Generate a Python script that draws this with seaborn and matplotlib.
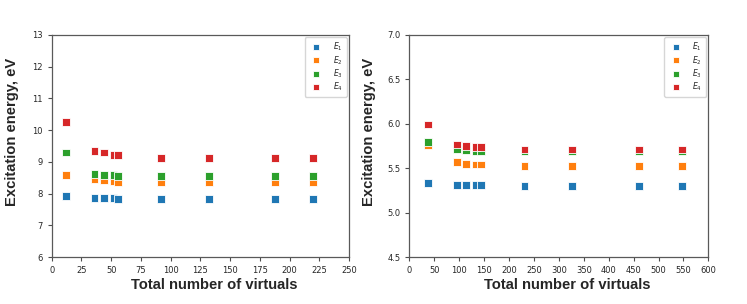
import pandas as pd
import matplotlib
matplotlib.use('Agg')
import matplotlib.pyplot as plt
import seaborn as sns

# left panel data
x_left = [12, 36, 44, 52, 56, 92, 132, 188, 220]
e1_left = [7.91, 7.86, 7.86, 7.85, 7.84, 7.84, 7.84, 7.84, 7.84]
e2_left = [8.58, 8.44, 8.42, 8.40, 8.37, 8.36, 8.36, 8.36, 8.36]
e3_left = [9.29, 8.61, 8.59, 8.58, 8.56, 8.54, 8.54, 8.54, 8.54]
e4_left = [10.25, 9.35, 9.29, 9.22, 9.22, 9.13, 9.13, 9.12, 9.12]

# right panel data
x_right = [38, 96, 114, 133, 144, 231, 326, 460, 547]
e1_right = [5.33, 5.31, 5.31, 5.31, 5.31, 5.30, 5.30, 5.30, 5.30]
e2_right = [5.76, 5.57, 5.55, 5.54, 5.54, 5.52, 5.52, 5.52, 5.52]
e3_right = [5.79, 5.71, 5.70, 5.69, 5.69, 5.69, 5.69, 5.69, 5.69]
e4_right = [5.99, 5.765, 5.745, 5.735, 5.735, 5.71, 5.71, 5.71, 5.71]

labels = ['$E_1$', '$E_2$', '$E_3$', '$E_4$']
colors = ['tab:blue', 'tab:orange', 'tab:green', 'tab:red']

left_xticks = [0, 25, 50, 75, 100, 125, 150, 175, 200, 225, 250]
right_xticks = [0, 50, 100, 150, 200, 250, 300, 350, 400, 450, 500, 550, 600]
left_yticks = [6, 7, 8, 9, 10, 11, 12, 13]
right_yticks = [4.5, 5.0, 5.5, 6.0, 6.5, 7.0]


def to_long(x, series):
    rows = []
    for lab, vals in zip(labels, series):
        for xi, yi in zip(x, vals):
            rows.append({'n': xi, 'E': yi, 'state': lab})
    return pd.DataFrame(rows)


sns.set_style('ticks')
plt.rcParams['font.family'] = ['DejaVu Sans']

fig = plt.figure(figsize=(7.47, 3.04), dpi=100)
ax1 = fig.add_axes([0.0692, 0.1546, 0.398, 0.731])
ax2 = fig.add_axes([0.548, 0.1546, 0.4003, 0.731])

panels = [
    (ax1, to_long(x_left, [e1_left, e2_left, e3_left, e4_left]), left_xticks, left_yticks, '%g',
     (0.546, -0.095), (-0.11, 0.565)),
    (ax2, to_long(x_right, [e1_right, e2_right, e3_right, e4_right]), right_xticks, right_yticks, '%.1f',
     (0.529, -0.095), (-0.11, 0.565)),
]

for ax, df, xt, yt, yfmt, xlab_pos, ylab_pos in panels:
    sns.scatterplot(data=df, x='n', y='E', hue='state', palette=colors,
                    marker='s', s=32, linewidth=0.6, edgecolor='white', ax=ax)
    ax.set_xlim(xt[0], xt[-1])
    ax.set_ylim(yt[0], yt[-1])
    ax.set_xticks(xt)
    ax.set_yticks(yt)
    ax.set_yticklabels([yfmt % v for v in yt])
    ax.set_xlabel('Total number of virtuals', fontsize=10.6, fontweight='bold',
                  family='Liberation Sans')
    ax.set_ylabel('Excitation energy, eV', fontsize=10.6, fontweight='bold',
                  family='Liberation Sans')
    ax.xaxis.set_label_coords(*xlab_pos)
    ax.yaxis.set_label_coords(*ylab_pos)
    ax.tick_params(labelsize=6, length=3, width=0.8, color='0.3')
    for sp in ax.spines.values():
        sp.set_color('0.35')
        sp.set_linewidth(0.9)
    sns.move_legend(ax, 'upper right', title=None, fontsize=5.5,
                    frameon=True, borderpad=0.5, labelspacing=0.1,
                    handletextpad=1.2, borderaxespad=0.3, markerscale=0.75)

fig.savefig('out.png', dpi=100)
